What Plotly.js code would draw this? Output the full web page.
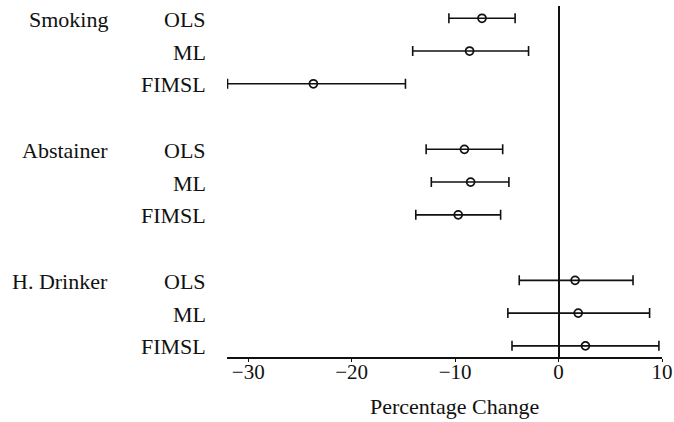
<!DOCTYPE html>
<html>
<head>
<meta charset="utf-8">
<script src="https://cdn.plot.ly/plotly-3.0.1.min.js"></script>
<style>html,body{margin:0;padding:0;background:#fff}</style>
</head>
<body>
<div id="chart" style="width:674px;height:422px"></div>
<script>
// Data
const groups = ["Smoking", "Abstainer", "H. Drinker"];
const methods = ["OLS", "ML", "FIMSL"];
const estimate = [-7.4, -8.6, -23.7,  -9.1, -8.5, -9.7,  1.6, 1.9, 2.6];
const lower    = [-10.6, -14.1, -32.0, -12.8, -12.3, -13.8, -3.8, -4.9, -4.5];
const upper    = [-4.2, -2.9, -14.8,  -5.4, -4.8, -5.6,  7.2, 8.8, 9.7];
const xTicks = [-30, -20, -10, 0, 10];
const xTitle = "Percentage Change";

// Row positions: three rows per group, one blank row between groups
const rows = [];
const rowLabels = [];
groups.forEach((g, gi) => methods.forEach((m, mi) => {
  rows.push(gi * 4 + mi);
  rowLabels.push(m);
}));

const font = "Liberation Serif, Times New Roman, serif";
const ink = "#111";
const fs = 22;

const trace = {
  type: "scatter",
  mode: "markers",
  x: estimate,
  y: rows,
  cliponaxis: false,
  marker: {symbol: "circle-open", size: 8, color: ink, line: {width: 1.7, color: ink}},
  error_x: {
    type: "data", symmetric: false,
    array: upper.map((u, i) => u - estimate[i]),
    arrayminus: estimate.map((e, i) => e - lower[i]),
    color: ink, thickness: 1.6, width: 5
  },
  hoverinfo: "x+y",
  showlegend: false
};

const annotations = [];
rows.forEach((r, i) => annotations.push({
  xref: "paper", yref: "y", x: -0.043, y: r, xanchor: "right", yanchor: "middle", yshift: -1,
  text: rowLabels[i], showarrow: false, font: {family: font, size: fs, color: ink}
}));
groups.forEach((g, gi) => annotations.push({
  xref: "paper", yref: "y", x: -0.27, y: gi * 4, xanchor: "right", yanchor: "middle", yshift: -1,
  text: g, showarrow: false, font: {family: font, size: fs, color: ink}
}));
annotations.push({
  xref: "paper", yref: "paper", x: 0.5225, y: -0.1415, xanchor: "center", yanchor: "middle",
  text: xTitle, showarrow: false, font: {family: font, size: fs, color: ink}
});

const layout = {
  width: 674, height: 422,
  margin: {l: 227, r: 12, t: 6, b: 65},
  paper_bgcolor: "#fff", plot_bgcolor: "#fff",
  font: {family: font, size: fs, color: ink},
  xaxis: {
    range: [-32.05, 10], tickvals: xTicks, ticktext: xTicks.map(v => v < 0 ? "\u2212" + Math.abs(v) : String(v)),
    showgrid: false, zeroline: true, zerolinecolor: ink, zerolinewidth: 2,
    showline: true, linecolor: ink, linewidth: 1.5,
    ticks: "outside", ticklen: 3, tickcolor: ink, tickwidth: 1,
    ticklabelstandoff: -8,
    tickfont: {family: font, size: 21, color: ink}
  },
  yaxis: {
    range: [10.34, -0.375], showgrid: false, zeroline: false, showline: false,
    showticklabels: false, ticks: ""
  },
  annotations: annotations
};

Plotly.newPlot("chart", [trace], layout, {displayModeBar: false, staticPlot: true});
</script>
</body>
</html>
